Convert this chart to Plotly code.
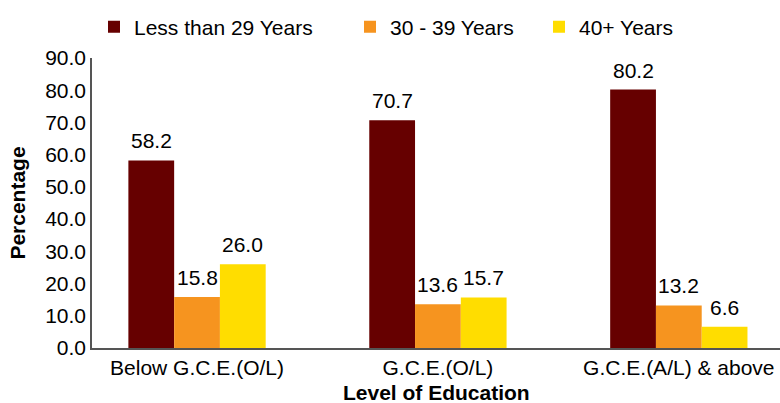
import plotly.graph_objects as go

# Education levels and share of each age group (%)
categories = ["Below G.C.E.(O/L)", "G.C.E.(O/L)", "G.C.E.(A/L) & above"]
series_names = ["Less than 29 Years", "30 - 39 Years", "40+ Years"]
under_29 = [58.2, 70.7, 80.2]
age_30_39 = [15.8, 13.6, 13.2]
age_40_plus = [26.0, 15.7, 6.6]
y_ticks = [0, 10, 20, 30, 40, 50, 60, 70, 80, 90]

colors = ["#660000", "#F6941F", "#FFDD00"]
series_values = [under_29, age_30_39, age_40_plus]

FONT = "Liberation Sans, Arial, Helvetica, sans-serif"
FS = 21
BARGAP = 0.43
n_series = len(series_values)
bar_w = (1 - BARGAP) / n_series

fig = go.Figure()
legend_keys = ["legend", "legend2", "legend3"]
for i, (name, vals, col) in enumerate(zip(series_names, series_values, colors)):
    fig.add_trace(go.Bar(
        name=name, x=categories, y=vals,
        marker=dict(color=col, line=dict(width=0)),
        legend=legend_keys[i], showlegend=True,
    ))

# value labels above every bar
annotations = []
for i, vals in enumerate(series_values):
    offset = (i - (n_series - 1) / 2) * bar_w
    for j, v in enumerate(vals):
        annotations.append(dict(
            x=j + offset, y=v, xref="x", yref="y",
            text=f"{v:.1f}", showarrow=False,
            yanchor="bottom", yshift=6,
            font=dict(family=FONT, size=FS, color="#000000"),
        ))

# x-axis title placed below the category labels
annotations.append(dict(
    x=0.5, y=-0.152, xref="paper", yref="paper",
    text="<b>Level of Education</b>", showarrow=False,
    xanchor="center", yanchor="middle", borderpad=0,
    font=dict(family=FONT, size=FS, color="#000000"),
))


def legend_at(px):
    return dict(
        orientation="h", yanchor="middle", xanchor="left",
        x=px / 780, xref="container", y=0.933, yref="container",
        font=dict(family=FONT, size=FS, color="#000000"),
        bgcolor="rgba(0,0,0,0)", borderwidth=0,
    )


fig.update_layout(
    width=780, height=403,
    margin=dict(l=92, r=0, t=58, b=55),
    paper_bgcolor="white", plot_bgcolor="white",
    barmode="group", bargap=BARGAP, bargroupgap=0,
    font=dict(family=FONT, size=FS, color="#000000"),
    annotations=annotations,
    showlegend=True,
    legend=legend_at(94),
    legend2=legend_at(350),
    legend3=legend_at(539),
    xaxis=dict(
        type="category", range=[-0.436, 2.42], automargin=False,
        showline=True, linecolor="#555555", linewidth=2,
        ticks="", showgrid=False,
        tickfont=dict(family=FONT, size=FS),
    ),
    yaxis=dict(
        range=[0, 90], tickvals=y_ticks, tickformat=".1f", automargin=False,
        showline=True, linecolor="#555555", linewidth=1.5,
        ticks="", showgrid=False, zeroline=False,
        tickfont=dict(family=FONT, size=FS),
        title=dict(text="<b>Percentage</b>",
                   font=dict(family=FONT, size=FS), standoff=14),
    ),
)

fig.write_html("out.html")
